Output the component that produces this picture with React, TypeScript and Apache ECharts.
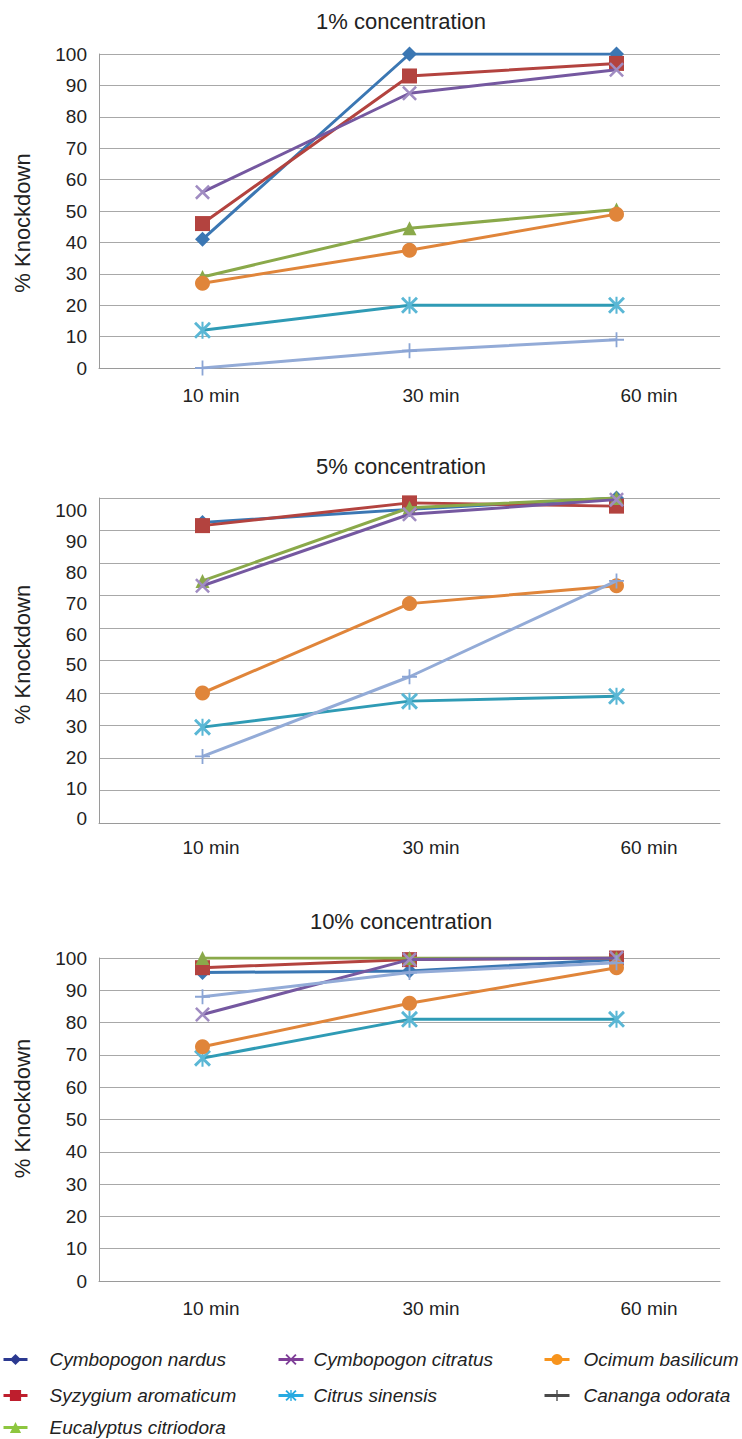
import React, { useEffect, useRef } from "react";
import * as echarts from "echarts";

const categories = ["10 min", "30 min", "60 min"];
const yTickValues = [0, 10, 20, 30, 40, 50, 60, 70, 80, 90, 100];
const chartTitles = ["1% concentration", "5% concentration", "10% concentration"];

const speciesNames = [
  "Cymbopogon nardus",
  "Syzygium aromaticum",
  "Eucalyptus citriodora",
  "Cymbopogon citratus",
  "Citrus sinensis",
  "Ocimum basilicum",
  "Cananga odorata",
];

// 1% concentration
const c1Nardus = [41, 100, 100];
const c1Syzygium = [46, 93, 97];
const c1Eucalyptus = [29, 44.5, 50.5];
const c1Citratus = [56, 87.5, 95];
const c1Citrus = [12, 20, 20];
const c1Ocimum = [27, 37.5, 49];
const c1Cananga = [0, 5.5, 9];

// 5% concentration
const c5Nardus = [92.5, 96.5, 100];
const c5Syzygium = [91.5, 98.5, 97.5];
const c5Eucalyptus = [74.5, 97, 100];
const c5Citratus = [73, 95, 99.5];
const c5Citrus = [29.5, 37.5, 39];
const c5Ocimum = [40, 67.5, 73];
const c5Cananga = [20.5, 45, 74.5];

// 10% concentration
const c10Nardus = [95.5, 96, 99.5];
const c10Syzygium = [97, 99.5, 100];
const c10Eucalyptus = [100, 100, 100];
const c10Citratus = [82.5, 99.5, 100];
const c10Citrus = [69, 81, 81];
const c10Ocimum = [72.5, 86, 97];
const c10Cananga = [88, 95.5, 98.5];

const chartData = [
  [c1Nardus, c1Syzygium, c1Eucalyptus, c1Citratus, c1Citrus, c1Ocimum, c1Cananga],
  [c5Nardus, c5Syzygium, c5Eucalyptus, c5Citratus, c5Citrus, c5Ocimum, c5Cananga],
  [c10Nardus, c10Syzygium, c10Eucalyptus, c10Citratus, c10Citrus, c10Ocimum, c10Cananga],
];

const X_PATH = "path://M0,1.2L1.2,0L10,8.8L8.8,10ZM8.8,0L10,1.2L1.2,10L0,8.8Z";
const AST_PATH =
  "path://M0,1.2L1.2,0L10,8.8L8.8,10ZM8.8,0L10,1.2L1.2,10L0,8.8ZM4.4,0L5.6,0L5.6,10L4.4,10Z";
const PLUS_PATH = "path://M4.4,0L5.6,0L5.6,10L4.4,10ZM0,4.4L10,4.4L10,5.6L0,5.6Z";

const lineColors = ["#3B77B3", "#B3433F", "#8AA94A", "#7558A0", "#2F9BB5", "#E0853A", "#93ABD7"];
const markerColors = ["#3B77B3", "#B3433F", "#8AA94A", "#A08CC2", "#5AB7D5", "#E0853A", "#8BA5D5"];
const symbols = ["diamond", "rect", "triangle", X_PATH, AST_PATH, "circle", PLUS_PATH];
const symbolSizes = [15, 15, 14, 15, 17, 15, 15];

const legendColors = ["#2B3990", "#BE1E2D", "#8DC63F", "#7F3F98", "#27AAE1", "#F7941D", "#4A4A4A"];

const FONT = "'Liberation Sans', Arial, sans-serif";

const grids = [
  { top: 54, height: 314 },
  { top: 498, height: 325 },
  { top: 958, height: 323 },
];
const titleTops = [5, 450, 905];
const namePads = [
  [0, 24, 0, 0],
  [0, 0, 0, 12],
  [0, 0, 0, 22],
];

export default function App() {
  const ref = useRef<HTMLDivElement>(null);
  useEffect(() => {
    if (!ref.current) return;
    const chart = echarts.init(ref.current, null, { renderer: "svg" });

    const xRich: any = {};
    [17, 43, 65].forEach((p, i) => {
      xRich["l" + i] = { padding: [0, 0, 0, p], fontSize: 19, color: "#222", fontFamily: FONT };
    });

    const xAxes = grids.map((_, gi) => ({
      type: "category",
      gridIndex: gi,
      data: categories,
      boundaryGap: true,
      axisLine: { show: true, lineStyle: { color: "#9a9a9a", width: 1 } },
      axisTick: { show: false },
      axisLabel: {
        margin: gi === 1 ? 15 : 18,
        fontSize: 19,
        color: "#222",
        fontFamily: FONT,
        formatter: (v: string, idx: number) => `{l${idx}|${v}}`,
        rich: xRich,
      },
    }));

    const yAxes: any[] = grids.map((_, gi) => ({
      type: "value",
      gridIndex: gi,
      min: 0,
      max: 100,
      interval: 10,
      name: "% Knockdown",
      nameLocation: "middle",
      nameGap: 66,
      nameTextStyle: { fontSize: 22, color: "#222", fontFamily: FONT, padding: namePads[gi] },
      axisLine: { show: true, lineStyle: { color: "#9a9a9a", width: 1 } },
      axisTick: { show: false },
      splitLine: { show: true, lineStyle: { color: "#a8a8a8", width: 1.2 } },
      axisLabel: {
        show: gi !== 1,
        margin: 12,
        fontSize: 19,
        color: "#222",
        fontFamily: FONT,
      },
    }));
    // label-only axis for the middle chart (labels sit slightly off the gridlines)
    yAxes.push({
      type: "value",
      gridIndex: 1,
      position: "left",
      min: -1.3,
      max: 104.22,
      axisLine: { show: false },
      axisTick: { show: false },
      splitLine: { show: false },
      axisLabel: {
        customValues: yTickValues,
        margin: 12,
        fontSize: 19,
        color: "#222",
        fontFamily: FONT,
      },
    });

    const series: any[] = [];
    chartData.forEach((sets, gi) => {
      sets.forEach((vals, si) => {
        series.push({
          type: "line",
          name: speciesNames[si],
          xAxisIndex: gi,
          yAxisIndex: gi,
          data: vals,
          symbol: symbols[si],
          symbolSize: symbolSizes[si],
          lineStyle: { color: lineColors[si], width: 3 },
          itemStyle: { color: markerColors[si] },
          z: 2 + si,
        });
      });
    });

    const legendCols = [
      { idx: [0, 1], left: 2, top: 1350, w: 24, pad: 17 },
      { idx: [2], left: 2, top: 1418, w: 24, pad: 17 },
      { idx: [3, 4], left: 277, top: 1350, w: 25, pad: 5 },
      { idx: [5, 6], left: 543, top: 1350, w: 25, pad: 9 },
    ];
    const legends = legendCols.map((c) => ({
      orient: "vertical",
      left: c.left,
      top: c.top,
      padding: 0,
      itemGap: 17,
      itemWidth: c.w,
      itemHeight: 14,
      selectedMode: false,
      formatter: (n: string) => `{t|${n}}`,
      textStyle: {
        rich: {
          t: {
            fontSize: 19,
            fontStyle: "italic",
            color: "#222",
            fontFamily: FONT,
            padding: [0, 0, 0, c.pad],
            lineHeight: 18,
          },
        },
      },
      data: c.idx.map((i) => ({
        name: speciesNames[i],
        itemStyle: { color: legendColors[i] },
        lineStyle: { color: legendColors[i], width: 3 },
      })),
    }));

    chart.setOption({
      animation: false,
      backgroundColor: "#ffffff",
      title: chartTitles.map((t, i) => ({
        text: t,
        left: 396,
        top: titleTops[i],
        textAlign: "center",
        textStyle: { fontSize: 22, fontWeight: "normal", color: "#222", fontFamily: FONT },
      })),
      grid: grids.map((g) => ({ left: 99, right: 22, top: g.top, height: g.height })),
      xAxis: xAxes,
      yAxis: yAxes,
      legend: legends,
      series,
    });
    return () => chart.dispose();
  }, []);
  return (
    <div
      ref={ref}
      style={{ position: "absolute", left: 0, top: 0, width: 742, height: 1439 }}
    />
  );
}
